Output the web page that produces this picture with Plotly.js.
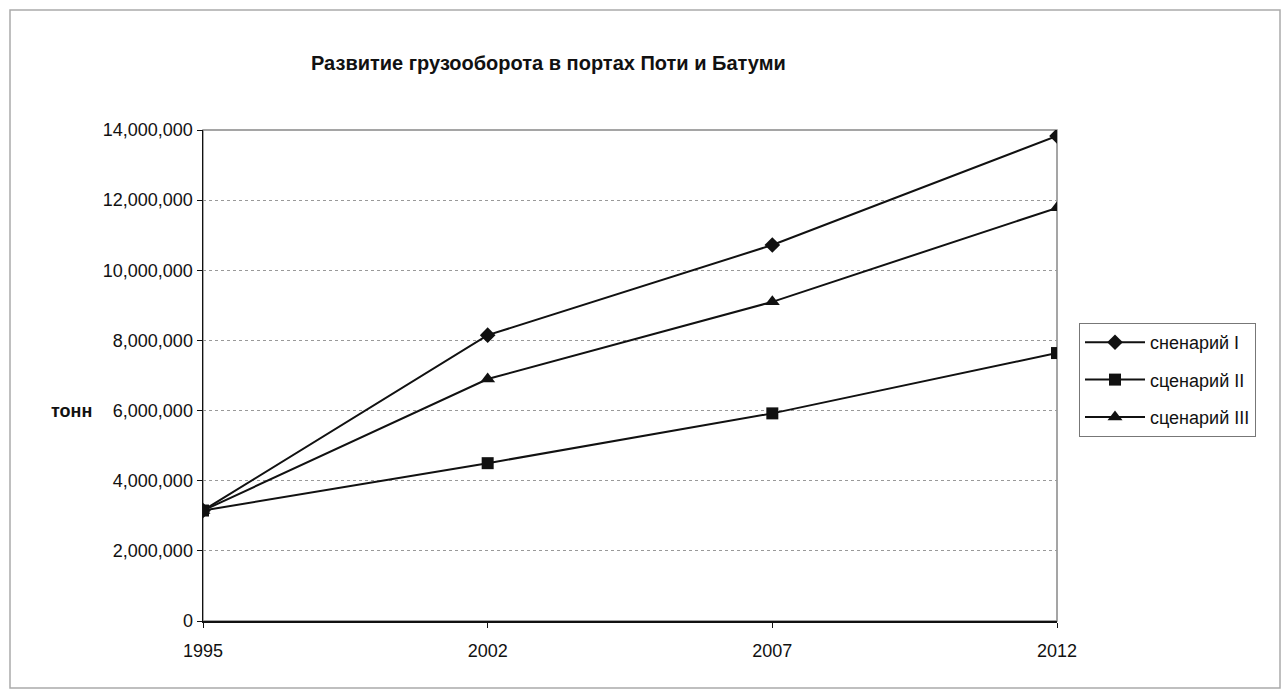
<!DOCTYPE html>
<html>
<head>
<meta charset="utf-8">
<script src="https://cdn.plot.ly/plotly-3.0.1.min.js"></script>
<style>html,body{margin:0;padding:0;background:#fff;}#chart{width:1288px;height:695px;}</style>
</head>
<body>
<div id="chart"></div>
<script>
var years = ['1995', '2002', '2007', '2012'];
var scenario1 = [3150000, 8150000, 10720000, 13830000];
var scenario2 = [3150000, 4500000, 5920000, 7640000];
var scenario3 = [3150000, 6900000, 9100000, 11780000];
var seriesNames = ['сненарий I', 'сценарий II', 'сценарий III'];
var titleText = 'Развитие грузооборота в портах Поти и Батуми';
var yTitle = 'тонн';

var FONT = 'Liberation Sans, Arial, sans-serif';
function tr(y, name, sym, size, grp) {
  return {
    x: years, y: y, name: name, type: 'scatter', mode: 'lines+markers',
    legendgroup: grp,
    line: {color: '#111', width: 2},
    marker: {symbol: sym, size: size, color: '#111'}
  };
}
var data = [
  tr(scenario1, seriesNames[0], 'diamond', 12, 'g1'),
  tr(scenario2, seriesNames[1], 'square', 12, 'g2'),
  tr(scenario3, seriesNames[2], 'triangle-up', 13, 'g3')
];
var W = 1057 - 203, H = 621 - 130;
function px(x) { return (x - 203) / W; }
function py(y) { return (621 - y) / H; }
var layout = {
  width: 1288, height: 695,
  margin: {l: 203, r: 231, t: 130, b: 74},
  paper_bgcolor: '#fff', plot_bgcolor: '#fff',
  font: {family: FONT, size: 18, color: '#111'},
  showlegend: true,
  legend: {
    x: px(1079), y: py(323), xanchor: 'left', yanchor: 'top',
    bordercolor: '#777', borderwidth: 1, bgcolor: '#fff',
    font: {family: FONT, size: 18, color: '#111'},
    tracegroupgap: 11, itemwidth: 60
  },
  xaxis: {
    type: 'category', range: [0, 3],
    showline: true, linecolor: '#111', linewidth: 1.5,
    ticks: 'outside', ticklen: 5, tickcolor: '#111',
    ticklabelstandoff: 8,
    showgrid: false, zeroline: false,
    tickfont: {family: FONT, size: 18, color: '#111'},
    fixedrange: true
  },
  yaxis: {
    range: [0, 14000000], dtick: 2000000, tickformat: ',d',
    showline: true, linecolor: '#111', linewidth: 1.5,
    ticks: 'outside', ticklen: 5, tickcolor: '#111',
    showgrid: true, gridcolor: '#999', griddash: 'dot', gridwidth: 1,
    zeroline: false,
    tickfont: {family: FONT, size: 18, color: '#111'},
    fixedrange: true
  },
  annotations: [
    {text: '<b>' + titleText + '</b>', xref: 'paper', yref: 'paper',
     x: px(548), y: py(63), xanchor: 'center', yanchor: 'middle',
     showarrow: false, font: {family: FONT, size: 20, color: '#111'}},
    {text: '<b>' + yTitle + '</b>', xref: 'paper', yref: 'paper',
     x: px(94), y: py(411), xanchor: 'right', yanchor: 'middle',
     showarrow: false, font: {family: FONT, size: 18, color: '#111'}}
  ],
  shapes: [
    {type: 'rect', xref: 'paper', yref: 'paper', x0: 0, x1: 1, y0: 0, y1: 1,
     line: {color: '#888', width: 1.5}, layer: 'below'},
    {type: 'rect', xref: 'paper', yref: 'paper',
     x0: px(10), x1: px(1280), y0: py(688), y1: py(10),
     line: {color: '#aaa', width: 1.5}, layer: 'below'}
  ]
};
Plotly.newPlot('chart', data, layout, {displayModeBar: false, staticPlot: true});
</script>
</body>
</html>
